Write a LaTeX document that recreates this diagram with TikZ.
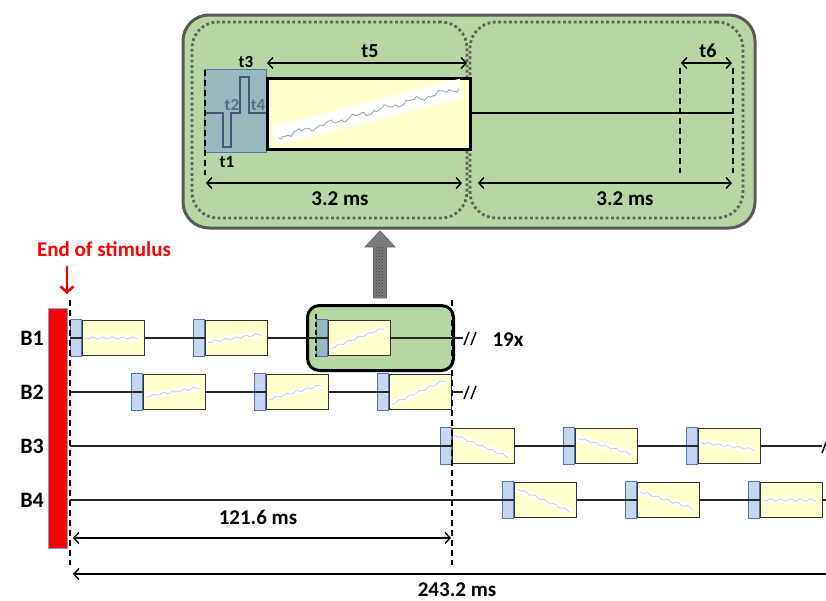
\documentclass[tikz,border=0pt]{standalone}
\usepackage{fontspec}
\setmainfont{Carlito}
\usetikzlibrary{arrows.meta,calc,patterns}
\definecolor{grn}{RGB}{183,214,164}
\definecolor{bfill}{RGB}{198,214,239}
\definecolor{bline}{RGB}{79,113,190}
\definecolor{yel}{RGB}{255,255,204}
\definecolor{teal}{RGB}{152,185,190}
\definecolor{pulse}{RGB}{70,85,120}
\definecolor{tlab}{RGB}{90,110,140}
\newcommand\blk[4]{%
  \node[bluebox, anchor=west] (#1b) at (#2,#3) {};
  \node[yelbox, anchor=west] (#1y) at (#1b.east) {};
  \draw[white, line width=6pt] ({#2+14},{#3+(#4)/2}) -- ({#2+69},{#3-(#4)/2});
  \draw[trace] plot[domain=0:1, samples=40] ({#2+15+\x*53},{#3+(#4)/2-\x*(#4)+1.0*sin(\x*1900)+0.7*sin(\x*4700+40)+0.4*sin(\x*9300)});
  \draw[tline] (#1b.west) -- (#1b.east);
}
\begin{document}
\begin{tikzpicture}[x=1pt,y=-1pt,
  lab/.style={font=\bfseries\fontsize{21}{24}\selectfont, anchor=base, inner sep=0pt},
  tsmall/.style={font=\bfseries\fontsize{17}{20}\selectfont, anchor=base, inner sep=0pt},
  bluebox/.style={draw=bline, fill=bfill, line width=1.2pt, minimum width=10.5pt, minimum height=37pt, inner sep=0pt},
  yelbox/.style={draw=black!80, fill=yel, line width=1.2pt, minimum width=62pt, minimum height=35pt, inner sep=0pt},
  trace/.style={gray!45, line width=0.7pt},
  tline/.style={black!85, line width=1.2pt},
  dim/.style={line width=1.4pt, {Straight Barb[length=5pt,width=11pt]}-{Straight Barb[length=5pt,width=11pt]}},
  diml/.style={line width=1.4pt, {Straight Barb[length=5pt,width=11pt]}-},
  vdash/.style={black, line width=1.4pt, dash pattern=on 6pt off 4pt},
  dotbox/.style={draw=black!62, line width=2.8pt, dash pattern=on 2.8pt off 2.6pt, rounded corners=26pt, minimum width=#1, minimum height=196pt, inner sep=0pt},
]
\useasboundingbox (0,0) rectangle (826,600);

% ===== top enlarged panel =====
\node[draw=black!65, fill=grn, line width=3pt, rounded corners=26pt, minimum width=572pt, minimum height=213pt, inner sep=0pt] (top) at (469,121.5) {};
\node[dotbox=275pt] (dl) at (329.5,120) {};
\node[dotbox=273pt] (dr) at (606.5,120) {};

\node[draw=bline, fill=teal, line width=1pt, minimum width=62pt, minimum height=83pt, inner sep=0pt, anchor=north west] (pb) at (204,69) {};
\node[draw=black, fill=yel, line width=2.5pt, minimum width=203pt, minimum height=71pt, inner sep=0pt, anchor=north west] (py) at (266,77) {};
\begin{scope}
  \clip (267.5,78.5) rectangle (467.5,146.5);
  \draw[white, line width=19pt] (274,136) -- (462,88);
\end{scope}
\draw[gray!75, line width=0.8pt] plot[domain=0:1, samples=90] ({279+\x*180},{137-\x*49+1.8*sin(\x*2300)+1.3*sin(\x*5900+50)+0.8*sin(\x*12100)});
\draw[pulse, line width=2.5pt] (204,113) -- (223,113) -- (223,147) -- (231,147) -- (231,113) -- (240,113) -- (240,77) -- (249,77) -- (249,113) -- (266,113);
\node[tsmall, text=tlab] (t2) at (232,110) {t2};
\node[tsmall, text=tlab] (t4) at (258,110) {t4};
\node[tsmall] (t3) at (246,67) {t3};
\node[tsmall] (t1) at (227,167) {t1};

\coordinate (sigend) at (733,113);
\draw[black, line width=1.5pt] (py.east |- sigend) -- (sigend);
\draw[vdash] (205,70) -- (205,175);
\draw[vdash] (680,68) -- (680,173);
\draw[vdash] (733,68) -- (733,173);

\draw[dim] (267,63) -- (467,63);
\node[lab, font=\bfseries\fontsize{20}{24}\selectfont] (t5) at (370,57) {t5};
\draw[dim] (681,63) -- (732,63);
\node[lab, font=\bfseries\fontsize{20}{24}\selectfont] (t6) at (708,57) {t6};
\draw[dim] (206,183) -- (462,183);
\draw[dim] (478,183) -- (732,183);
\node[lab] (ms1) at (340,205) {3.2 ms};
\node[lab] (ms2) at (625,205) {3.2 ms};

% ===== grey arrow =====
\path[fill=black!52, draw=black!60, line width=0.8pt] (373.5,298) -- (373.5,247) -- (365,247) -- (380,231) -- (395,247) -- (386.5,247) -- (386.5,298) -- cycle;
\path[pattern=crosshatch dots, pattern color=black!75] (375,296) rectangle (385,247);

% ===== stimulus =====
\node[lab, text=red] (stim) at (104,256) {End of stimulus};
\draw[red, line width=2.5pt, -{Straight Barb[length=6pt,width=13pt]}] (67,266) -- (67,294);
\node[draw=bline!70, fill=red, line width=0.6pt, minimum width=19pt, minimum height=240pt, inner sep=0pt, anchor=north west] (bar) at (48,308) {};

% ===== row labels =====
\node[lab, font=\bfseries\fontsize{22}{24}\selectfont] (B1) at (32,345) {B1};
\node[lab, font=\bfseries\fontsize{22}{24}\selectfont] (B2) at (32,399) {B2};
\node[lab, font=\bfseries\fontsize{22}{24}\selectfont] (B3) at (32,453) {B3};
\node[lab, font=\bfseries\fontsize{22}{24}\selectfont] (B4) at (32,507) {B4};

% ===== timelines =====
\coordinate (s1) at (70,338); \coordinate (e1) at (463,338);
\coordinate (s2) at (70,392); \coordinate (e2) at (463,392);
\coordinate (s3) at (70,446); \coordinate (e3) at (822,446);
\coordinate (s4) at (70,500); \coordinate (e4) at (826,500);

\node[draw=black, fill=grn, line width=3pt, rounded corners=12pt, minimum width=146pt, minimum height=65pt, inner sep=0pt, anchor=north west] (g) at (306,304) {};

\draw[tline] (s1) -- (e1);
\draw[tline] (s2) -- (e2);
\draw[tline] (s3) -- (e3);
\draw[tline] (s4) -- (e4);

\blk{a1}{70}{338}{0}
\blk{a2}{193}{338}{8}
\node[draw=bline, fill=teal, line width=1.2pt, minimum width=10.5pt, minimum height=37pt, inner sep=0pt, anchor=west] (a3b) at (316,338) {};
\node[yelbox, anchor=west] (a3y) at (a3b.east) {};
\draw[white, line width=6pt] (330,348) -- (385,328);
\draw[trace] plot[domain=0:1, samples=40] ({331+\x*53},{348-\x*20+1.0*sin(\x*1900)+0.7*sin(\x*4700+40)+0.4*sin(\x*9300)});
\draw[tline] (a3b.west) -- (a3b.east);
\draw[black, line width=1.4pt, dash pattern=on 5pt off 3pt] (316,314) -- (316,357);

\blk{c1}{131}{392}{9}
\blk{c2}{254}{392}{14}
\blk{c3}{377}{392}{24}

\blk{d1}{440}{446}{-22}
\blk{d2}{563}{446}{-16}
\blk{d3}{686}{446}{-7}

\blk{f1}{502}{500}{-23}
\blk{f2}{625}{500}{-17}
\blk{f3}{748}{500}{0}

% break marks
\draw[line width=1.5pt] (464,345) -- (469,332);
\draw[line width=1.5pt] (471,345) -- (476,332);
\draw[line width=1.5pt] (464,399) -- (469,386);
\draw[line width=1.5pt] (471,399) -- (476,386);
\draw[line width=1.5pt] (822,453) -- (827,440);
\node[lab] (x19) at (508,346) {19x};

% ===== dimension lines =====
\draw[vdash] (70,300) -- (70,565);
\draw[vdash] (452,300) -- (452,565);
\draw[dim] (73,538) -- (451,538);
\node[lab] (m121) at (258,524) {121.6 ms};
\draw[diml] (73,574) -- (830,574);
\node[lab] (m243) at (457,596) {243.2 ms};
\end{tikzpicture}
\end{document}
